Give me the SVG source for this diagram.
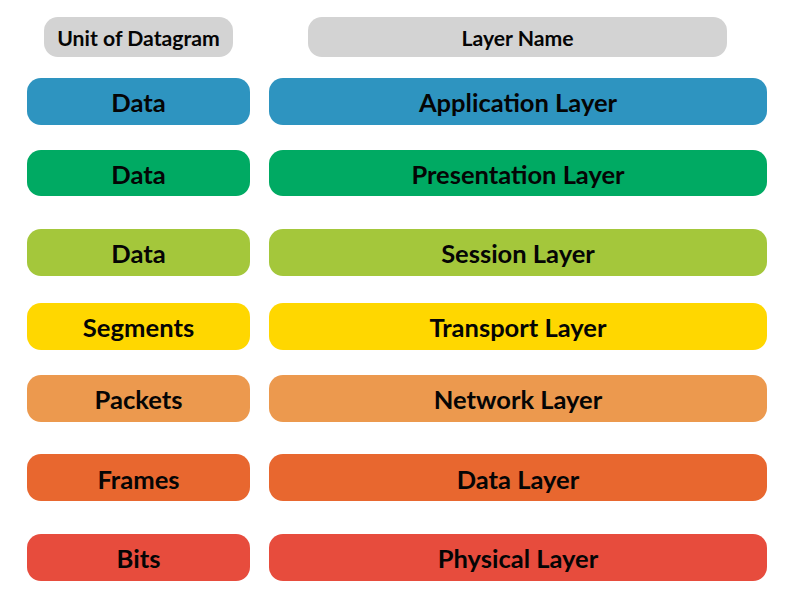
<svg xmlns="http://www.w3.org/2000/svg" width="800" height="600" viewBox="0 0 800 600">
<style>
text{font-family:Lato,"Liberation Sans",sans-serif;font-weight:bold;fill:#050505;text-anchor:middle;dominant-baseline:central}
.h{font-size:21.2px}
.u{font-size:25.6px}
.l{font-size:25.5px}
.hd{fill:#D3D3D3}
</style>
<rect width="800" height="600" fill="#fff"/>
<g id="header-unit"><rect class="hd" x="44" y="17" width="189" height="40" rx="14"/><text class="h" x="138.5" y="38">Unit of Datagram</text></g>
<g id="header-layer"><rect class="hd" x="308" y="17" width="419" height="40" rx="14"/><text class="h" x="517.5" y="38">Layer Name</text></g>
<g id="row1" fill="#2E94C0">
<rect x="27" y="78" width="223" height="47" rx="14"/><text class="u" x="138.5" y="102">Data</text>
<rect x="269" y="78" width="498" height="47" rx="14"/><text class="l" x="518" y="102">Application Layer</text></g>
<g id="row2" fill="#00AA63">
<rect x="27" y="150" width="223" height="46" rx="14"/><text class="u" x="138.5" y="174">Data</text>
<rect x="269" y="150" width="498" height="46" rx="14"/><text class="l" x="518" y="174">Presentation Layer</text></g>
<g id="row3" fill="#A4C73B">
<rect x="27" y="229" width="223" height="47" rx="14"/><text class="u" x="138.5" y="253">Data</text>
<rect x="269" y="229" width="498" height="47" rx="14"/><text class="l" x="518" y="253">Session Layer</text></g>
<g id="row4" fill="#FFD700">
<rect x="27" y="303" width="223" height="47" rx="14"/><text class="u" x="138.5" y="327">Segments</text>
<rect x="269" y="303" width="498" height="47" rx="14"/><text class="l" x="518" y="327">Transport Layer</text></g>
<g id="row5" fill="#EC994E">
<rect x="27" y="375" width="223" height="47" rx="14"/><text class="u" x="138.5" y="399">Packets</text>
<rect x="269" y="375" width="498" height="47" rx="14"/><text class="l" x="518" y="399">Network Layer</text></g>
<g id="row6" fill="#E8672F">
<rect x="27" y="454" width="223" height="47" rx="14"/><text class="u" x="138.5" y="479">Frames</text>
<rect x="269" y="454" width="498" height="47" rx="14"/><text class="l" x="518" y="479">Data Layer</text></g>
<g id="row7" fill="#E74C3D">
<rect x="27" y="534" width="223" height="47" rx="14"/><text class="u" x="138.5" y="558">Bits</text>
<rect x="269" y="534" width="498" height="47" rx="14"/><text class="l" x="518" y="558">Physical Layer</text></g>
<g id="connectors"/>
</svg>
